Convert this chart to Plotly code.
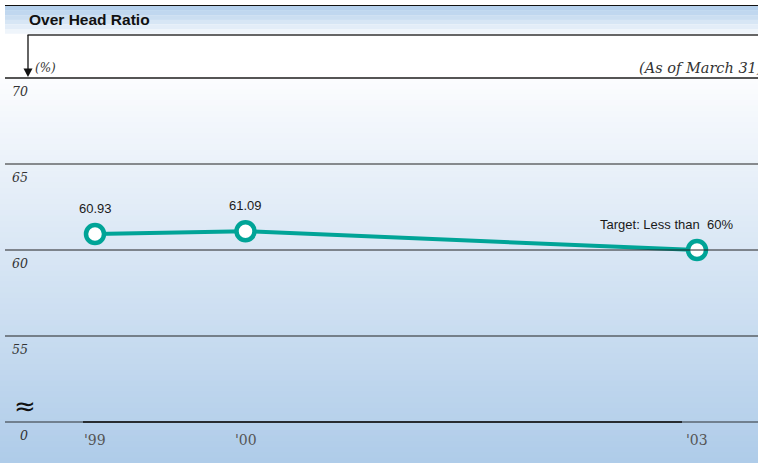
import plotly.graph_objects as go

# Overhead ratio by fiscal year (as of March 31), in percent
years = [1999, 2000, 2003]
ratios = [60.93, 61.09, 60.0]
point_labels = ["60.93", "61.09", "Target: Less than  60%"]
label_shift_x = [0, 0, -31]

tick_values = [70, 65, 60, 55, 50]
tick_labels = ["70", "65", "60", "55", "0"]
year_ticks = [1999, 2000, 2003]
year_labels = ["'99", "'00", "'03"]

W, H = 758, 463
X_RANGE = [1998.3688, 2003.4053]
Y_RANGE = [47.616, 74.535]

TEAL = "#00a497"
SERIF = "DejaVu Serif, Liberation Serif, serif"


def px(x):
    return x / W


def py(y):
    return 1 - y / H


def lerp_color(c1, c2, t):
    a = [int(c1[i:i + 2], 16) for i in (1, 3, 5)]
    b = [int(c2[i:i + 2], 16) for i in (1, 3, 5)]
    return "rgb(%d,%d,%d)" % tuple(round(a[k] + (b[k] - a[k]) * t) for k in range(3))


shapes = []

# soft blue gradient behind the plotting area
y_top, y_bot, steps = 78, 463, 70
for i in range(steps):
    y0 = y_top + (y_bot - y_top) * i / steps
    y1 = y_top + (y_bot - y_top) * (i + 1) / steps + 0.6
    shapes.append(dict(type="rect", xref="paper", yref="paper", layer="below",
                       x0=0, x1=1, y0=py(y1), y1=py(y0), line=dict(width=0),
                       fillcolor=lerp_color("#fbfcfe", "#afcce9", i / (steps - 1))))

# banded header strip
bands = ["#b5d0ec", "#c0d7ef", "#cbdef1", "#d7e6f5", "#e3edf8", "#eff5fb"]
for i, c in enumerate(bands):
    y0 = 6 + i * 4.6
    shapes.append(dict(type="rect", xref="paper", yref="paper", layer="below",
                       x0=px(5), x1=1, y0=py(y0 + 4.8), y1=py(y0),
                       line=dict(width=0), fillcolor=c))
shapes.append(dict(type="line", xref="paper", yref="paper", x0=px(5), x1=1,
                   y0=py(5.5), y1=py(5.5), line=dict(color="#111", width=1.2)))
shapes.append(dict(type="line", xref="paper", yref="paper", x0=px(27.5), x1=1,
                   y0=py(35), y1=py(35), line=dict(color="#333", width=1.5)))
# unit arrow
shapes.append(dict(type="line", xref="paper", yref="paper", x0=px(28), x1=px(28),
                   y0=py(35), y1=py(70), line=dict(color="#111", width=1.3)))
shapes.append(dict(type="path", xref="paper", yref="paper",
                   path="M %f,%f L %f,%f L %f,%f Z" % (px(23.5), py(68.5), px(32.5), py(68.5), px(28), py(77)),
                   fillcolor="#111", line=dict(width=0)))

# gridlines
for v in tick_values:
    if v == 70:
        shapes.append(dict(type="line", xref="paper", yref="y", x0=px(5), x1=1, y0=v, y1=v,
                           line=dict(color="#555", width=1.8)))
    elif v == 50:
        shapes.append(dict(type="line", xref="paper", yref="y", x0=px(5), x1=1, y0=v, y1=v,
                           line=dict(color="#5a6470", width=1.6)))
        shapes.append(dict(type="line", xref="paper", yref="y", x0=px(83), x1=px(682), y0=v, y1=v,
                           line=dict(color="#111", width=1.6)))
    else:
        shapes.append(dict(type="line", xref="paper", yref="y", x0=px(5), x1=1, y0=v, y1=v,
                           line=dict(color="#222", width=1)))

annotations = [
    dict(text="<b>Over Head Ratio</b>", xref="paper", yref="paper", x=px(27), y=py(19),
         xanchor="left", yanchor="middle", showarrow=False,
         font=dict(family="Liberation Sans, Arial", size=15.5, color="#111")),
    dict(text="(%)", xref="paper", yref="paper", x=px(33), y=py(68),
         xanchor="left", yanchor="middle", showarrow=False,
         font=dict(family=SERIF, size=12, color="#333", style="italic")),
    dict(text="(As of March 31)", xref="paper", yref="paper", x=px(764), y=py(68),
         xanchor="right", yanchor="middle", showarrow=False,
         font=dict(family=SERIF, size=14.5, color="#333", style="italic")),
    dict(text="≈", xref="paper", yref="paper", x=px(25), y=py(406),
         xanchor="center", yanchor="middle", showarrow=False,
         font=dict(family="DejaVu Sans", size=26, color="#111")),
]

for v, t in zip(tick_values, tick_labels):
    annotations.append(dict(text=t, xref="paper", yref="y", x=px(10) if t != "0" else px(18), y=v,
                            yshift=-13, xanchor="left", yanchor="middle", showarrow=False,
                            font=dict(family=SERIF, size=12.5, color="#333", style="italic")))

for yr, t in zip(year_ticks, year_labels):
    annotations.append(dict(text=t, xref="x", yref="y", x=yr, y=50, yshift=-18,
                            xanchor="center", yanchor="middle", showarrow=False,
                            font=dict(family=SERIF, size=14, color="#555")))

for yr, v, t, dx in zip(years, ratios, point_labels, label_shift_x):
    annotations.append(dict(text=t, xref="x", yref="y", x=yr, y=v, yshift=26, xshift=dx,
                            xanchor="center", yanchor="middle", showarrow=False,
                            font=dict(family="Liberation Sans, Arial", size=13, color="#1a1a1a")))

fig = go.Figure()
fig.add_trace(go.Scatter(
    x=years, y=ratios, mode="lines+markers",
    line=dict(color=TEAL, width=4),
    marker=dict(size=18, color="white", line=dict(color=TEAL, width=4.5)),
    hoverinfo="skip", showlegend=False,
))

fig.update_layout(
    width=W, height=H,
    margin=dict(l=0, r=0, t=0, b=0),
    paper_bgcolor="white", plot_bgcolor="rgba(0,0,0,0)",
    xaxis=dict(range=X_RANGE, visible=False, fixedrange=True),
    yaxis=dict(range=Y_RANGE, visible=False, fixedrange=True),
    shapes=shapes, annotations=annotations,
)

fig.write_html("out.html")
